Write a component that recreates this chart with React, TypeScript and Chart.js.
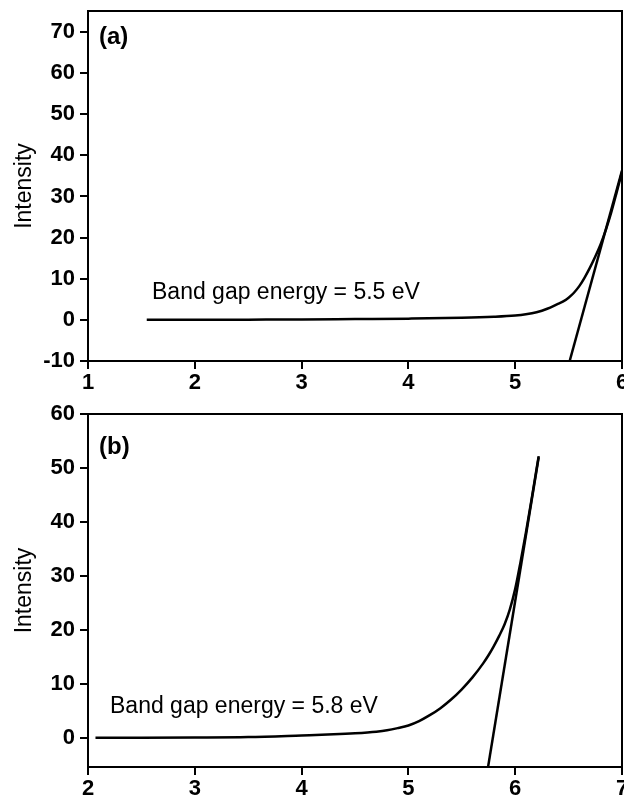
import React, { useEffect, useRef } from 'react';
import { Chart, registerables } from 'chart.js';

Chart.register(...registerables);

// Panel (a)
const curveAX = [1.55, 2.0, 2.5, 3.0, 3.5, 4.0, 4.5, 4.8, 5.0, 5.1, 5.2, 5.3, 5.4, 5.45, 5.5, 5.55, 5.6, 5.65, 5.7, 5.75, 5.8, 5.85, 5.9, 5.95, 6.0];
const curveAY = [0, 0, 0.05, 0.1, 0.2, 0.3, 0.5, 0.75, 1.05, 1.35, 1.85, 2.7, 3.9, 4.5, 5.4, 6.6, 8.2, 10.3, 12.7, 15.4, 18.4, 22.0, 26.2, 31.0, 36.0];
const tangentAX = [5.51, 6.0];
const tangentAY = [-10, 36.3];
const xTicksA = [1, 2, 3, 4, 5, 6];
const yTicksA = [-10, 0, 10, 20, 30, 40, 50, 60, 70];
const labelA = 'Band gap energy = 5.5 eV';

// Panel (b)
const curveBX = [2.07, 2.5, 3.0, 3.5, 4.0, 4.3, 4.5, 4.7, 4.8, 4.9, 5.0, 5.1, 5.2, 5.3, 5.4, 5.5, 5.6, 5.7, 5.75, 5.8, 5.85, 5.9, 5.95, 6.0, 6.05, 6.1, 6.15, 6.2, 6.22];
const curveBY = [0, 0, 0.05, 0.15, 0.45, 0.65, 0.85, 1.15, 1.4, 1.8, 2.3, 3.1, 4.2, 5.5, 7.1, 9.0, 11.2, 13.8, 15.3, 17.0, 18.9, 21.0, 23.8, 27.6, 32.6, 38.0, 43.8, 49.8, 52.2];
const tangentBX = [5.745, 6.22];
const tangentBY = [-5.5, 52];
const xTicksB = [2, 3, 4, 5, 6, 7];
const yTicksB = [0, 10, 20, 30, 40, 50, 60];
const labelB = 'Band gap energy = 5.8 eV';

const FONT = "'Liberation Sans', Arial, Helvetica, sans-serif";

function pts(xs: number[], ys: number[]) {
  return xs.map((x, i) => ({ x, y: ys[i] }));
}

type PanelCfg = {
  curveX: number[]; curveY: number[];
  tanX: number[]; tanY: number[];
  xTicks: number[]; yTicks: number[];
  xMin: number; xMax: number; yMin: number; yMax: number;
  label: string; tag: string;
  padTop: number; xAxisH: number;
  labelPos: [number, number]; tagPos: [number, number];
};

function Panel({ cfg, height }: { cfg: PanelCfg; height: number }) {
  const ref = useRef<HTMLCanvasElement | null>(null);
  useEffect(() => {
    if (!ref.current) return;
    const framePlugin = {
      id: 'frameAndText',
      afterDraw(chart: any) {
        const { ctx, chartArea } = chart;
        ctx.save();
        ctx.strokeStyle = '#000';
        ctx.lineWidth = 2;
        ctx.strokeRect(chartArea.left, chartArea.top, chartArea.right - chartArea.left, chartArea.bottom - chartArea.top);
        ctx.fillStyle = '#000';
        ctx.textBaseline = 'alphabetic';
        ctx.textAlign = 'left';
        ctx.font = `23px ${FONT}`;
        ctx.fillText(cfg.label, cfg.labelPos[0], cfg.labelPos[1]);
        ctx.font = `bold 24px ${FONT}`;
        ctx.fillText(cfg.tag, cfg.tagPos[0], cfg.tagPos[1]);
        ctx.restore();
      },
    };
    const tickFont = { family: FONT, size: 22, weight: 'bold' as const };
    const chart = new Chart(ref.current, {
      type: 'line',
      data: {
        datasets: [
          {
            data: pts(cfg.curveX, cfg.curveY),
            borderColor: '#000',
            borderWidth: 2.5,
            pointRadius: 0,
            cubicInterpolationMode: 'monotone',
            fill: false,
          },
          {
            data: pts(cfg.tanX, cfg.tanY),
            borderColor: '#000',
            borderWidth: 2.5,
            pointRadius: 0,
            fill: false,
          },
        ],
      },
      options: {
        animation: false,
        responsive: false,
        devicePixelRatio: 1,
        layout: { padding: { top: cfg.padTop, right: 2, left: 0, bottom: 0 } },
        plugins: { legend: { display: false }, tooltip: { enabled: false } },
        scales: {
          x: {
            type: 'linear',
            min: cfg.xMin,
            max: cfg.xMax,
            afterBuildTicks: (s: any) => { s.ticks = cfg.xTicks.map((v) => ({ value: v })); },
            afterFit: (s: any) => { s.height = cfg.xAxisH; s.paddingLeft = 0; s.paddingRight = 0; },
            grid: { drawOnChartArea: false, drawTicks: true, tickLength: 8, color: '#000', lineWidth: 2 },
            border: { display: true, color: '#000', width: 2 },
            ticks: { color: '#000', font: tickFont, padding: 1, maxRotation: 0, autoSkip: false },
          },
          y: {
            type: 'linear',
            min: cfg.yMin,
            max: cfg.yMax,
            afterBuildTicks: (s: any) => { s.ticks = cfg.yTicks.map((v) => ({ value: v })); },
            afterFit: (s: any) => { s.width = 88; s.paddingTop = 0; s.paddingBottom = 0; },
            grid: { drawOnChartArea: false, drawTicks: true, tickLength: 8, color: '#000', lineWidth: 2 },
            border: { display: true, color: '#000', width: 2 },
            ticks: { color: '#000', font: tickFont, padding: 5, autoSkip: false },
            title: {
              display: true,
              text: 'Intensity',
              color: '#000',
              font: { family: FONT, size: 23 },
              padding: { top: 11, bottom: 0 },
            },
          },
        },
      },
      plugins: [framePlugin],
    } as any);
    return () => chart.destroy();
  }, [cfg]);
  return <canvas ref={ref} width={624} height={height} style={{ display: 'block', width: 624, height }} />;
}

const cfgA: PanelCfg = {
  curveX: curveAX, curveY: curveAY, tanX: tangentAX, tanY: tangentAY,
  xTicks: xTicksA, yTicks: yTicksA,
  xMin: 1, xMax: 6, yMin: -10, yMax: 75.1,
  label: labelA, tag: '(a)',
  padTop: 11, xAxisH: 39,
  labelPos: [152, 299], tagPos: [99, 44],
};

const cfgB: PanelCfg = {
  curveX: curveBX, curveY: curveBY, tanX: tangentBX, tanY: tangentBY,
  xTicks: xTicksB, yTicks: yTicksB,
  xMin: 2, xMax: 7, yMin: -5.4, yMax: 60,
  label: labelB, tag: '(b)',
  padTop: 14, xAxisH: 28,
  labelPos: [110, 313], tagPos: [99, 54],
};

export default function App() {
  return (
    <div style={{ position: 'fixed', left: 0, top: 0, width: 624, height: 795, background: '#fff', overflow: 'hidden' }}>
      <Panel cfg={cfgA} height={400} />
      <Panel cfg={cfgB} height={395} />
    </div>
  );
}
